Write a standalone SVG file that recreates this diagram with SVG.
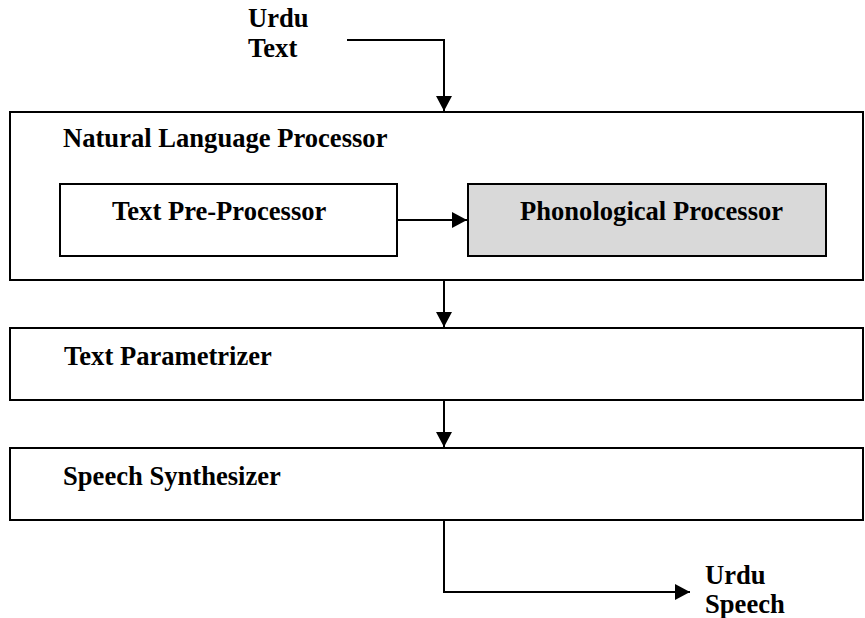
<svg xmlns="http://www.w3.org/2000/svg" width="865" height="618" viewBox="0 0 865 618">
<style>
.box{fill:#fff;stroke:#000;stroke-width:2}
.gray{fill:#d9d9d9;stroke:#000;stroke-width:2}
.t{font-family:"Liberation Serif","Times New Roman",serif;font-weight:bold;font-size:28px;fill:#000}
.c{fill:none;stroke:#000;stroke-width:2}
</style>
<defs>
<marker id="ah" markerWidth="16" markerHeight="16" refX="15" refY="8" orient="auto" markerUnits="userSpaceOnUse">
<path d="M0,0 L15,8 L0,16 Z" fill="#000"/>
</marker>
</defs>
<rect width="865" height="618" fill="#fff"/>
<g id="urdu-text"><text class="t" transform="translate(248,27) scale(0.95,1)">Urdu</text><text class="t" transform="translate(248,57) scale(0.95,1)">Text</text></g>
<g id="nlp"><rect class="box" x="10" y="112" width="853" height="168"/><text class="t" transform="translate(63,147) scale(0.95,1)">Natural Language Processor</text></g>
<g id="tpp"><rect class="box" x="60" y="184" width="337" height="72"/><text class="t" transform="translate(112,220) scale(0.95,1)">Text Pre-Processor</text></g>
<g id="pp"><rect class="gray" x="468" y="184" width="358" height="72"/><text class="t" transform="translate(520,220) scale(0.95,1)">Phonological Processor</text></g>
<g id="tp"><rect class="box" x="10" y="328" width="853" height="72"/><text class="t" transform="translate(64,365) scale(0.95,1)">Text Parametrizer</text></g>
<g id="ss"><rect class="box" x="10" y="448" width="853" height="72"/><text class="t" transform="translate(63,485) scale(0.95,1)">Speech Synthesizer</text></g>
<g id="urdu-speech"><text class="t" transform="translate(705,584) scale(0.95,1)">Urdu</text><text class="t" transform="translate(705,613) scale(0.95,1)">Speech</text></g>
<g id="connectors">
<path class="c" d="M347,40 H444 V111" marker-end="url(#ah)"/>
<path class="c" d="M397,220 H467" marker-end="url(#ah)"/>
<path class="c" d="M444,281 V327" marker-end="url(#ah)"/>
<path class="c" d="M444,401 V447" marker-end="url(#ah)"/>
<path class="c" d="M444,521 V592 H690" marker-end="url(#ah)"/>
</g>
</svg>
